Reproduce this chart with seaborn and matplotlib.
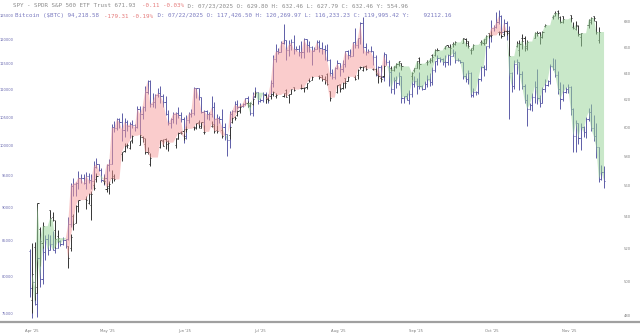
import numpy as np
import pandas as pd
import matplotlib
matplotlib.use("Agg")
import matplotlib.pyplot as plt
import matplotlib.dates as mdates
import matplotlib.transforms as mtransforms
from matplotlib.ticker import FixedLocator, FixedFormatter, NullLocator
import seaborn as sns

# ---------------- data ----------------
# Bitcoin daily OHLC in thousands of USD, 2025-04-06 .. 2025-11-16
btc_open = [
    83.5, 78.4, 79.2, 76.3, 82.6, 79.6, 83.4, 85.3, 83.7, 84.5, 83.7, 84.0, 84.9, 84.5, 85.1, 85.2, 87.5, 93.4, 93.7, 93.9, 94.7, 94.6, 93.8, 95.0, 94.3,
    94.2, 96.5, 96.9, 95.9, 94.3, 94.7, 96.8, 97.0, 103.2, 103.0, 104.6, 104.1, 102.8, 104.2, 103.5, 103.7, 103.6, 103.2, 106.5, 105.6, 106.8, 109.7, 111.7, 107.3, 107.8, 109.0, 109.4, 108.9, 107.8, 105.6, 103.9,
    104.6, 105.6, 105.8, 105.4, 104.7, 101.6, 104.4, 105.6, 105.8, 110.3, 110.3, 108.6, 105.9, 106.1, 105.5, 105.5, 106.8, 104.6, 104.9, 104.6, 103.3, 102.1, 100.9, 105.5, 106.1, 107.3, 106.9, 107.1, 107.4, 108.4,
    107.1, 105.7, 108.9, 109.6, 108.0, 108.2, 109.2, 108.3, 108.9, 111.3, 116.0, 117.5, 117.4, 119.1, 119.8, 117.7, 118.8, 119.3, 117.9, 117.9, 117.3, 117.43, 120.0, 118.8, 118.4, 117.6, 117.9, 119.4, 118.1, 117.9, 117.8,
    115.8, 113.3, 112.5, 114.2, 115.1, 114.1, 115.0, 117.5, 116.7, 116.5, 119.3, 118.7, 120.2, 123.3, 118.4, 117.4, 117.5, 117.5, 116.3, 112.9, 114.3, 112.4, 116.9, 115.4, 113.5, 110.1, 111.8, 111.3, 112.6, 108.4, 108.8,
    108.2, 109.2, 111.2, 111.7, 110.7, 110.7, 110.2, 111.1, 112.0, 111.5, 113.9, 115.5, 116.1, 115.9, 115.3, 115.3, 116.8, 116.5, 117.1, 115.7, 115.7, 115.3, 112.7, 112.0, 113.3, 109.0, 109.7, 109.7, 112.1, 114.4,
    114.0, 118.6, 120.6, 122.3, 122.4, 123.5, 124.8, 121.5, 123.4, 121.7, 113.2, 110.7, 115.0, 115.3, 113.0, 110.8, 108.2, 106.5, 107.2, 108.7, 110.6, 108.5, 107.6, 110.1, 111.0, 111.7, 114.6, 114.1, 112.9, 110.1, 108.3,
    109.6, 110.1, 110.6, 106.5, 101.6, 103.9, 101.3, 103.3, 102.3, 104.7, 105.9, 103.0, 101.6, 99.7, 94.4, 95.6,
]
btc_high = [
    83.8, 81.2, 80.8, 83.5, 82.7, 84.3, 85.8, 86.0, 85.8, 86.5, 85.4, 85.5, 85.1, 85.6, 85.3, 88.5, 93.9, 94.6, 94.0, 95.8, 95.3, 95.3, 95.6, 95.5, 95.2,
    97.4, 97.9, 96.9, 96.3, 95.2, 96.9, 97.7, 103.8, 104.3, 104.9, 104.9, 105.7, 104.9, 104.4, 104.1, 104.5, 103.7, 107.0, 107.1, 107.1, 110.7, 111.9, 111.8, 109.5, 109.3, 110.4, 110.7, 109.3, 108.9, 106.3, 104.9,
    105.9, 105.9, 106.8, 105.9, 105.0, 105.3, 105.9, 106.4, 110.6, 110.4, 110.4, 108.6, 106.2, 106.2, 106.0, 108.9, 107.7, 105.6, 105.2, 106.5, 103.9, 102.1, 106.1, 106.3, 108.0, 108.2, 107.6, 107.6, 108.5, 108.8,
    107.5, 109.7, 110.5, 109.7, 108.4, 109.7, 109.7, 109.2, 111.9, 116.8, 118.9, 118.2, 119.5, 123.1, 119.9, 119.8, 120.1, 120.9, 118.6, 118.8, 119.6, 120.27, 120.1, 119.5, 118.5, 118.4, 119.8, 119.8, 119.3, 118.8, 118.9,
    116.0, 114.0, 114.4, 115.7, 115.1, 115.7, 117.6, 117.7, 117.9, 119.3, 122.3, 120.3, 123.6, 124.5, 119.2, 117.9, 118.6, 117.6, 116.8, 114.6, 114.8, 117.4, 117.0, 115.7, 113.7, 112.4, 112.6, 113.4, 112.7, 108.9, 109.5,
    109.9, 111.8, 112.6, 112.2, 113.4, 111.0, 111.6, 112.9, 113.2, 114.3, 115.6, 116.7, 116.3, 116.1, 116.7, 117.0, 117.3, 117.9, 117.5, 116.2, 115.8, 115.4, 113.3, 113.9, 113.4, 110.3, 109.8, 112.3, 114.5, 114.8,
    118.6, 121.0, 123.9, 122.9, 125.7, 126.2, 125.0, 124.1, 123.8, 122.6, 113.4, 115.8, 116.0, 115.4, 113.6, 111.2, 109.2, 107.5, 109.5, 111.7, 114.0, 109.0, 110.6, 112.0, 111.9, 115.0, 116.1, 116.0, 113.6, 111.5, 111.1,
    110.6, 111.2, 110.7, 106.6, 104.5, 104.0, 104.0, 103.5, 105.0, 106.6, 107.4, 105.3, 104.0, 99.8, 96.8, 96.6,
]
btc_low = [
    77.2, 74.5, 76.2, 74.6, 78.5, 78.9, 82.2, 82.9, 83.7, 83.6, 83.2, 83.9, 84.3, 84.4, 83.9, 85.1, 87.0, 91.8, 91.7, 92.9, 93.9, 93.6, 92.9, 93.8, 92.9,
    94.1, 96.3, 95.7, 94.0, 93.5, 93.4, 95.8, 96.9, 102.3, 102.8, 103.1, 100.8, 101.5, 102.6, 101.4, 103.1, 102.6, 103.1, 102.1, 104.6, 106.1, 109.3, 106.8, 106.9, 106.6, 108.6, 107.6, 106.8, 105.3, 103.6, 103.1,
    103.9, 103.7, 104.9, 104.2, 100.4, 101.1, 103.9, 105.1, 105.3, 108.4, 108.1, 105.7, 102.7, 104.6, 104.5, 105.0, 103.4, 103.6, 103.9, 102.4, 100.9, 98.2, 99.6, 104.7, 105.9, 106.5, 106.4, 106.9, 107.2, 106.8,
    105.3, 105.2, 108.6, 107.3, 107.8, 107.8, 107.5, 107.5, 108.4, 110.6, 115.3, 116.9, 117.3, 118.9, 115.7, 116.5, 117.8, 116.9, 117.5, 116.6, 116.2, 116.23, 117.4, 117.3, 114.7, 117.5, 117.9, 117.4, 116.9, 115.8, 115.5,
    112.7, 112.0, 112.0, 114.1, 112.7, 113.4, 114.3, 115.9, 116.3, 116.5, 118.1, 118.2, 118.9, 117.2, 116.8, 117.2, 117.3, 114.7, 112.7, 112.4, 112.0, 111.7, 114.7, 110.8, 109.5, 109.3, 110.3, 110.9, 107.5, 107.5, 108.1,
    107.3, 108.7, 110.6, 109.3, 110.2, 110.0, 110.1, 110.6, 110.8, 110.9, 113.4, 114.7, 115.3, 114.8, 114.3, 114.8, 114.7, 116.5, 115.2, 115.5, 115.1, 112.0, 111.5, 111.1, 108.7, 108.7, 109.1, 109.3, 111.6, 112.7,
    113.9, 118.2, 119.3, 121.7, 122.2, 123.1, 120.6, 121.1, 119.7, 104.6, 109.6, 110.2, 113.0, 110.0, 110.2, 107.5, 103.5, 106.3, 106.1, 107.5, 107.4, 106.9, 107.5, 109.7, 110.7, 111.2, 113.9, 112.4, 109.3, 106.4, 108.0,
    109.4, 109.4, 105.3, 99.0, 98.9, 100.3, 99.3, 101.5, 101.4, 104.3, 102.5, 100.8, 98.0, 94.0, 94.3, 93.0,
]
btc_close = [
    78.4, 79.2, 76.3, 82.6, 79.6, 83.4, 85.3, 83.7, 84.5, 83.7, 84.0, 84.9, 84.5, 85.1, 85.2, 87.5, 93.4, 93.7, 93.9, 94.7, 94.6, 93.8, 95.0, 94.3, 94.2,
    96.5, 96.9, 95.9, 94.3, 94.7, 96.8, 97.0, 103.2, 103.0, 104.6, 104.1, 102.8, 104.2, 103.5, 103.7, 103.6, 103.2, 106.5, 105.6, 106.8, 109.7, 111.7, 107.3, 107.8, 109.0, 109.4, 108.9, 107.8, 105.6, 103.9, 104.6,
    105.6, 105.8, 105.4, 104.7, 101.6, 104.4, 105.6, 105.8, 110.3, 110.3, 108.6, 105.9, 106.1, 105.5, 105.5, 106.8, 104.6, 104.9, 104.6, 103.3, 102.1, 100.9, 105.5, 106.1, 107.3, 106.9, 107.1, 107.4, 108.4, 107.1,
    105.7, 108.9, 109.6, 108.0, 108.2, 109.2, 108.3, 108.9, 111.3, 116.0, 117.5, 117.4, 119.1, 119.8, 117.7, 118.8, 119.3, 117.9, 117.9, 117.3, 117.4, 120.0, 118.8, 118.4, 117.6, 117.9, 119.4, 118.1, 117.9, 117.8, 115.8,
    113.3, 112.5, 114.2, 115.1, 114.1, 115.0, 117.5, 116.7, 116.5, 119.3, 118.7, 120.2, 123.3, 118.4, 117.4, 117.5, 117.5, 116.3, 112.9, 114.3, 112.4, 116.9, 115.4, 113.5, 110.1, 111.8, 111.3, 112.6, 108.4, 108.8, 108.2,
    109.2, 111.2, 111.7, 110.7, 110.7, 110.2, 111.1, 112.0, 111.5, 113.9, 115.5, 116.1, 115.9, 115.3, 115.3, 116.8, 116.5, 117.1, 115.7, 115.7, 115.3, 112.7, 112.0, 113.3, 109.0, 109.7, 109.7, 112.1, 114.4, 114.0,
    118.6, 120.6, 122.3, 122.4, 123.5, 124.8, 121.5, 123.4, 121.7, 113.2, 110.7, 115.0, 115.3, 113.0, 110.8, 108.2, 106.5, 107.2, 108.7, 110.6, 108.5, 107.6, 110.1, 111.0, 111.7, 114.6, 114.1, 112.9, 110.1, 108.3, 109.6,
    110.1, 110.6, 106.5, 101.6, 103.9, 101.3, 103.3, 102.3, 104.7, 105.9, 103.0, 101.6, 99.7, 94.4, 95.6, 94.2,
]

# SPY daily OHLC (trading days 2025-04-07 .. 2025-11-14)
spy_open = [
    489.2, 521.0, 493.4, 532.0, 523.5, 544.0, 539.7, 531.7, 527.6, 521.2, 520.2, 540.4, 536.0, 547.1, 551.4, 548.9, 547.6,
    560.4, 564.8, 563.2, 558.1, 560.2, 565.2, 566.5, 581.5, 583.4, 587.8, 585.6, 591.3, 588.1, 593.1, 588.4, 582.7, 574.9, 586.2, 590.8, 592.2, 588.8,
    587.8, 592.3, 597.1, 597.6, 598.7, 600.2, 600.1, 604.2, 600.0, 597.2, 600.9, 601.0, 598.1, 598.4, 595.0, 604.3, 607.9, 608.9, 612.9, 617.4,
    616.4, 617.2, 622.5, 623.4, 621.4, 622.8, 624.2, 622.7, 623.2, 627.5, 623.7, 624.4, 629.3, 628.8, 629.1, 629.8, 635.0, 635.1, 638.0, 638.4, 635.9, 639.5,
    626.3, 625.7, 631.8, 629.0, 636.3, 634.1, 637.4, 638.3, 644.9, 642.5, 645.4, 642.9, 643.1, 639.4, 636.3, 637.8, 644.0, 642.2, 644.6, 647.2, 647.5,
    637.5, 642.7, 644.0, 651.5, 648.6, 649.0, 653.6, 654.2, 657.7, 659.5, 661.9, 659.9, 662.4, 662.3, 663.2, 666.7, 664.5, 657.9, 659.5, 664.4, 662.9,
    663.2, 670.8, 669.9, 671.8, 671.6, 670.3, 672.8, 672.9, 660.6, 657.7, 666.8, 666.8, 659.5, 667.3, 671.4, 672.0, 668.1, 676.5, 683.7, 687.1, 688.7, 683.9, 685.0,
    685.7, 676.1, 674.0, 676.5, 667.9, 677.2, 679.9, 684.8, 680.5, 665.4,
]
spy_high = [
    523.2, 524.0, 548.6, 533.5, 536.4, 544.3, 543.2, 537.9, 531.2, 521.7, 529.2, 541.7, 547.4, 551.0, 553.4, 555.5, 556.5,
    564.0, 568.5, 566.3, 562.0, 563.0, 570.5, 567.8, 583.0, 589.1, 588.9, 590.9, 594.5, 595.5, 594.1, 592.6, 586.6, 582.0, 591.3, 592.0, 592.8, 591.6,
    592.8, 597.1, 597.9, 599.0, 600.8, 601.0, 603.5, 605.1, 603.8, 601.9, 604.5, 602.8, 601.7, 599.5, 600.5, 607.9, 608.6, 612.3, 616.4, 619.2,
    618.8, 620.5, 626.3, 624.0, 622.1, 624.7, 626.9, 624.9, 625.2, 627.9, 624.7, 628.4, 629.5, 631.5, 629.5, 632.46, 636.1, 637.6, 638.3, 638.7, 637.7, 639.8,
    626.3, 631.2, 631.9, 633.2, 636.6, 637.7, 638.6, 642.9, 645.2, 645.1, 646.2, 644.0, 644.0, 639.7, 637.9, 646.5, 645.3, 645.3, 647.4, 649.5, 647.8,
    640.5, 644.2, 649.2, 652.2, 649.9, 651.3, 654.6, 658.3, 659.1, 661.0, 661.9, 662.1, 664.0, 665.0, 667.0, 667.3, 664.6, 659.5, 662.4, 665.3, 666.6,
    669.4, 670.9, 672.7, 672.7, 672.5, 673.2, 673.9, 673.9, 665.1, 665.8, 670.2, 668.7, 665.8, 672.2, 673.0, 672.0, 672.7, 678.5, 685.5, 688.9, 689.7, 684.9, 685.1,
    685.8, 679.9, 680.9, 677.4, 671.1, 682.2, 683.6, 684.96, 680.9, 675.7,
]
spy_low = [
    481.8, 489.2, 493.1, 509.4, 520.1, 533.9, 536.9, 520.3, 523.9, 507.9, 518.4, 531.5, 535.6, 543.0, 545.1, 548.4, 537.7,
    557.0, 562.4, 561.4, 556.0, 554.3, 561.6, 562.9, 577.0, 582.8, 585.5, 585.3, 589.3, 588.0, 589.7, 581.8, 581.4, 573.5, 586.0, 586.9, 585.1, 583.7,
    586.0, 591.9, 595.5, 591.1, 596.9, 598.6, 599.1, 599.8, 599.5, 595.5, 600.2, 596.1, 596.5, 592.9, 591.9, 603.4, 605.5, 608.4, 610.8, 615.0,
    615.0, 616.6, 622.4, 617.9, 619.5, 620.9, 623.0, 621.5, 621.8, 622.1, 618.1, 624.2, 626.5, 628.3, 626.2, 627.79, 633.6, 634.6, 635.5, 634.3, 631.5, 630.8,
    619.3, 625.3, 626.1, 627.8, 628.6, 633.7, 634.8, 635.5, 642.8, 641.9, 642.4, 642.2, 638.5, 632.9, 633.6, 637.3, 641.9, 641.5, 643.8, 645.4, 642.6,
    634.9, 640.6, 643.8, 643.3, 646.4, 647.6, 648.6, 652.8, 656.9, 658.8, 659.9, 653.9, 660.1, 661.5, 663.2, 661.0, 659.7, 654.4, 657.9, 661.9, 661.6,
    663.1, 666.8, 668.2, 669.3, 667.5, 668.7, 669.4, 652.8, 659.8, 653.2, 658.9, 657.1, 658.1, 667.3, 669.0, 662.3, 667.1, 675.7, 682.1, 684.8, 682.1, 679.0, 679.2,
    679.9, 674.6, 673.6, 668.7, 661.2, 675.0, 678.7, 680.9, 670.5, 663.3,
]
spy_close = [
    504.4, 496.5, 548.6, 524.6, 533.9, 539.1, 537.6, 525.7, 526.4, 513.9, 527.3, 535.4, 546.7, 550.6, 550.9, 554.3, 554.5,
    558.5, 566.8, 563.5, 558.8, 561.2, 565.1, 564.3, 582.9, 586.8, 587.6, 590.5, 594.2, 594.9, 592.9, 582.9, 583.1, 579.1, 591.2, 587.2, 590.3, 589.4,
    592.7, 596.1, 596.0, 593.0, 599.1, 599.7, 603.1, 601.4, 603.8, 597.0, 602.7, 597.5, 597.4, 594.3, 600.2, 606.8, 607.1, 611.9, 614.9, 617.9,
    617.7, 620.5, 625.3, 620.7, 620.3, 624.1, 625.8, 623.6, 624.8, 622.1, 624.2, 628.0, 627.6, 628.8, 628.9, 632.46, 634.4, 637.1, 636.9, 635.3, 634.5, 632.1,
    621.7, 631.2, 627.9, 632.8, 632.3, 637.2, 635.9, 642.7, 644.9, 644.9, 643.4, 643.3, 639.8, 638.1, 635.6, 645.3, 642.5, 645.2, 646.8, 648.9, 645.1,
    640.3, 643.7, 649.1, 647.2, 648.8, 650.3, 652.2, 657.6, 657.4, 660.9, 660.0, 659.2, 662.3, 663.7, 666.8, 663.2, 661.1, 658.1, 661.8, 663.7, 666.2,
    668.5, 669.2, 669.2, 671.6, 669.1, 673.1, 671.2, 653.0, 663.0, 662.2, 665.2, 660.6, 664.4, 671.3, 671.3, 667.8, 671.8, 677.3, 685.2, 687.1, 687.4, 679.8, 682.1,
    683.3, 675.2, 677.6, 670.3, 670.97, 681.4, 683.0, 683.4, 672.0, 671.93,
]

btc_ticks = [75000, 80000, 85000, 90000, 95000, 100000, 105000, 110000, 115000, 120000, 125000]
spy_ticks = [480, 500, 520, 540, 560, 580, 600, 620, 640, 660, 680]
month_starts = ["2025-04-01", "2025-05-01", "2025-06-01", "2025-07-01",
                "2025-08-01", "2025-09-01", "2025-10-01", "2025-11-01"]
month_labels = ["Apr '25", "May '25", "Jun '25", "Jul '25", "Aug '25", "Sep '25", "Oct '25", "Nov '25"]
holidays = ["2025-04-18", "2025-05-26", "2025-06-19", "2025-07-04", "2025-09-01"]

header1 = [("SPY - SPDR S&P 500 ETF Trust 671.93 ", "#8c8c8c"),
           ("-0.11 -0.03%", "#e57c7c"),
           (" D: 07/23/2025 O: 629.80 H: 632.46 L: 627.79 C: 632.46 Y: 554.96", "#8c8c8c")]
header2 = [("Bitcoin ($BTC) 94,218.58 ", "#7b7bc0"),
           ("-179.31 -0.19%", "#e57c7c"),
           (" D: 07/22/2025 O: 117,426.50 H: 120,269.97 L: 116,233.23 C: 119,995.42 Y:    92112.16", "#7b7bc0")]

# ---------------- frames ----------------
btc = pd.DataFrame({"open": btc_open, "high": btc_high, "low": btc_low, "close": btc_close},
                   index=pd.date_range("2025-04-06", "2025-11-16", freq="D")) * 1000.0
spy = pd.DataFrame({"open": spy_open, "high": spy_high, "low": spy_low, "close": spy_close},
                   index=pd.bdate_range("2025-04-07", "2025-11-14", freq="C", holidays=holidays))

# ---------------- figure ----------------
sns.set_theme(style="white")
plt.rcParams["font.family"] = ["DejaVu Sans"]

W, H = 640, 336
fig = plt.figure(figsize=(W / 100, H / 100), dpi=100)
bottom_px = 322
ax = fig.add_axes([0, (H - bottom_px) / H, 1, bottom_px / H])
ax2 = ax.twinx()

px_per_day = 2.564
x0 = mdates.date2num(pd.Timestamp("2025-03-25 10:00"))
ax.set_xlim(x0, x0 + W / px_per_day)

ax.set_yscale("log")
ax2.set_yscale("log")
ax.set_ylim(73981, 128276)
ax2.set_ylim(476.6, 697.9)

BTC_C = "#5d5da8"
SPY_C = "#353535"
tick = 0.45
lw = 0.7

xb = mdates.date2num(btc.index)
ax.vlines(xb, btc["low"], btc["high"], color=BTC_C, lw=lw, zorder=2)
ax.hlines(btc["open"], xb - tick, xb, color=BTC_C, lw=lw, zorder=2)
ax.hlines(btc["close"], xb, xb + tick, color=BTC_C, lw=lw, zorder=2)

xs = mdates.date2num(spy.index)
ax2.vlines(xs, spy["low"], spy["high"], color=SPY_C, lw=lw, zorder=2)
ax2.hlines(spy["open"], xs - tick, xs, color=SPY_C, lw=lw, zorder=2)
ax2.hlines(spy["close"], xs, xs + tick, color=SPY_C, lw=lw, zorder=2)

# fill between the two closes (BTC close mapped into the SPY axis via the axes transforms)
disp = ax.transData.transform(np.column_stack([xb, btc["close"].values]))
btc_in_spy = ax2.transData.inverted().transform(disp)[:, 1]
spy_ff = spy["close"].reindex(btc.index).ffill().values
ok = ~np.isnan(spy_ff)
ax2.fill_between(xb[ok], spy_ff[ok], btc_in_spy[ok], where=btc_in_spy[ok] >= spy_ff[ok],
                 interpolate=True, color="#f69a9a", alpha=0.5, lw=0, zorder=3)
ax2.fill_between(xb[ok], spy_ff[ok], btc_in_spy[ok], where=btc_in_spy[ok] < spy_ff[ok],
                 interpolate=True, color="#98d498", alpha=0.52, lw=0, zorder=3)

# ---------------- axes styling ----------------
for a in (ax, ax2):
    for s in ("top", "left", "right"):
        a.spines[s].set_visible(False)
    a.grid(False)
ax2.spines["bottom"].set_visible(False)
ax.spines["bottom"].set_color("#a0a0a0")
ax.spines["bottom"].set_linewidth(1.6)
ax.set_facecolor("white")

ax.yaxis.set_major_locator(FixedLocator(btc_ticks))
ax.yaxis.set_major_formatter(FixedFormatter([str(v) for v in btc_ticks]))
ax.yaxis.set_minor_locator(NullLocator())
ax.tick_params(axis="y", left=True, length=0, labelsize=2.6, labelcolor="#6a6ab0", pad=-9.8)

ax2.yaxis.set_major_locator(FixedLocator(spy_ticks))
ax2.yaxis.set_major_formatter(FixedFormatter([str(v) for v in spy_ticks]))
ax2.yaxis.set_minor_locator(NullLocator())
ax2.tick_params(axis="y", right=True, length=0, labelsize=2.7, labelcolor="#808080", pad=-11.5)

mx = mdates.date2num(pd.to_datetime(month_starts))
ax.xaxis.set_major_locator(FixedLocator(mx))
ax.xaxis.set_major_formatter(FixedFormatter(month_labels))
ax.xaxis.set_minor_locator(NullLocator())
ax.tick_params(axis="x", bottom=True, length=0, labelsize=2.7, labelcolor="#7a7a7a", pad=5)
for i, lbl in enumerate(ax.get_xticklabels()):
    shift = mtransforms.ScaledTranslation((15 - 1.6 * i) / 100, 0, fig.dpi_scale_trans)
    lbl.set_transform(lbl.get_transform() + shift)

# ---------------- header ----------------
char_w = 3.57
for (segs, x_start, y_px) in ((header1, 13, 5.5), (header2, 15, 16)):
    n = 0
    for txt, col in segs:
        fig.text((x_start + n * char_w) / W, 1 - y_px / H, txt, color=col,
                 family=["DejaVu Sans Mono"], fontsize=4.27, va="center", ha="left")
        n += len(txt)

fig.savefig("out.png", dpi=100)
